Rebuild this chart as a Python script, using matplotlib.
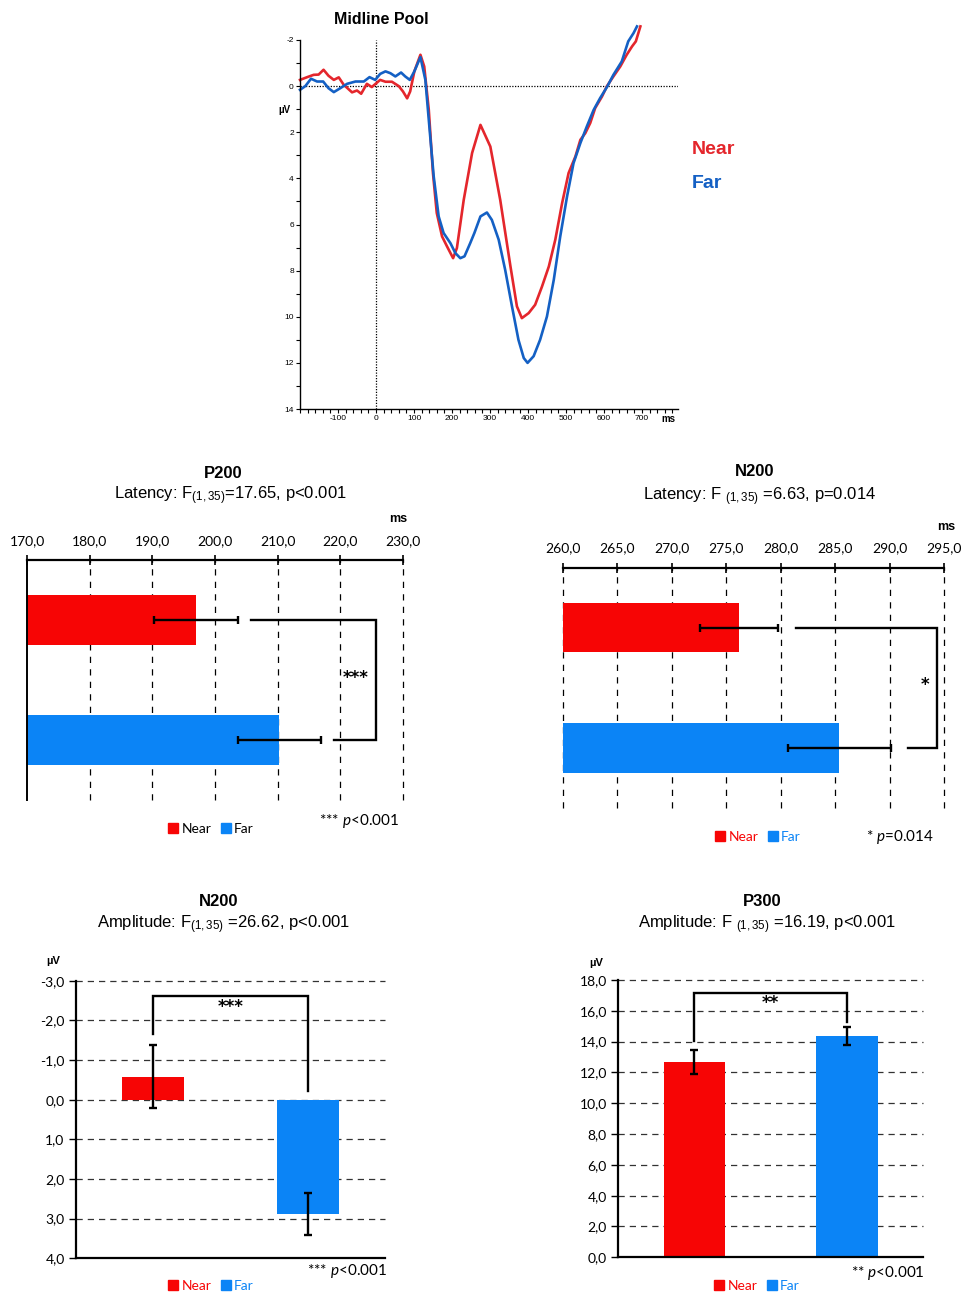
import matplotlib
matplotlib.use("Agg")
import matplotlib.pyplot as plt
from matplotlib.patches import Patch

plt.rcParams["font.family"] = ["Liberation Sans", "DejaVu Sans"]
plt.rcParams["axes.unicode_minus"] = False
plt.rcParams["mathtext.fontset"] = "custom"
plt.rcParams["mathtext.rm"] = "Lato"
plt.rcParams["mathtext.it"] = "Lato:italic"
plt.rcParams["mathtext.bf"] = "Lato:bold"

# ---------------------------------------------------------------- data
# Grand-average ERP, midline electrode pool (ms, microvolts)
near_t = [-200, -181, -164, -151, -138, -125, -111, -98, -85, -63, -50, -39, -24, -11, 11,
          25, 42, 60, 71, 82, 90, 101, 117, 127, 139, 150, 160, 174, 187, 203,
          213, 231, 253, 275, 301, 327, 354, 371, 384, 402, 419, 437, 455, 472, 490,
          507, 525, 538, 551, 564, 577, 595, 608, 625, 643, 660, 674, 684, 696]
near_uv = [-0.27, -0.39, -0.49, -0.50, -0.71, -0.45, -0.27, -0.38, -0.06, 0.27, 0.19, 0.33, -0.10, 0.04, -0.27,
           -0.19, -0.19, 0.0, 0.23, 0.53, 0.23, -0.64, -1.36, -0.85, 1.03, 3.77, 5.5, 6.52, 6.95, 7.46,
           7.02, 4.93, 2.9, 1.68, 2.62, 4.93, 7.82, 9.55, 10.06, 9.84, 9.48, 8.69, 7.82, 6.66, 5.07,
           3.77, 3.05, 2.33, 2.04, 1.60, 0.95, 0.45, 0.0, -0.42, -0.85, -1.36, -1.72, -1.94, -2.59]
far_t = [-200, -186, -171, -155, -139, -125, -111, -94, -76, -54, -32, -17, -2, 11, 25,
         38, 51, 66, 77, 89, 101, 117, 130, 142, 152, 165, 178, 196, 209, 222,
         233, 248, 259, 275, 292, 305, 323, 340, 358, 375, 389, 399, 415, 432, 450,
         468, 485, 503, 520, 538, 555, 573, 590, 608, 625, 647, 664, 678, 687]
far_uv = [0.16, 0.0, -0.32, -0.2, -0.2, 0.09, 0.26, 0.09, -0.1, -0.2, -0.2, -0.39, -0.27, -0.53, -0.64,
          -0.56, -0.42, -0.59, -0.42, -0.27, -0.64, -1.26, -0.27, 2.04, 3.92, 5.65, 6.37, 6.81, 7.24, 7.46,
          7.38, 6.81, 6.37, 5.65, 5.48, 5.8, 6.66, 7.96, 9.55, 11.0, 11.79, 12.0, 11.71, 11.0, 9.99,
          8.4, 6.52, 4.78, 3.34, 2.47, 1.75, 1.03, 0.52, 0.04, -0.49, -1.07, -1.94, -2.3, -2.59]

conditions = ["Near", "Far"]
p200_latency = [197.0, 210.3]
p200_latency_se = [6.7, 6.7]
n200_latency = [276.2, 285.4]
n200_latency_se = [3.6, 4.7]
n200_amplitude = [-0.58, 2.89]
n200_amplitude_se = [0.79, 0.53]
p300_amplitude = [12.68, 14.36]
p300_amplitude_se = [0.80, 0.56]

erp_xticks = [-100, 0, 100, 200, 300, 400, 500, 600, 700]
erp_yticks = [-2, 0, 2, 4, 6, 8, 10, 12, 14]
p200_ticks = [170, 180, 190, 200, 210, 220, 230]
n200_lat_ticks = [260, 265, 270, 275, 280, 285, 290, 295]
n200_amp_ticks = [-3, -2, -1, 0, 1, 2, 3, 4]
p300_ticks = [0, 2, 4, 6, 8, 10, 12, 14, 16, 18]

# ---------------------------------------------------------------- style
W, H = 964, 1294
RED_LINE = "#E4262C"
BLUE_LINE = "#1460C4"
RED_BAR = "#F70505"
BLUE_BAR = "#0B84F6"
TICK_FONT = "Lato"

fig = plt.figure(figsize=(W / 100, H / 100), dpi=100)


def pix_axes(x0, y0, x1, y1):
    return fig.add_axes([x0 / W, 1 - y1 / H, (x1 - x0) / W, (y1 - y0) / H])


def pix_text(x, y, s, **kw):
    kw.setdefault("ha", "center")
    kw.setdefault("va", "center")
    return fig.text(x / W, 1 - y / H, s, **kw)


def comma(v):
    return f"{v:.1f}".replace(".", ",")


# ---------------------------------------------------------------- ERP waveform
ax = pix_axes(300, 40, 678, 409)
ax.plot(near_t, near_uv, color=RED_LINE, lw=1.9, clip_on=False, solid_joinstyle="round")
ax.plot(far_t, far_uv, color=BLUE_LINE, lw=1.9, clip_on=False, solid_joinstyle="round")
ax.set_xlim(-200, 795)
ax.set_ylim(14, -2)
ax.axhline(0, color="black", lw=0.9, ls=(0, (1, 1.2)), zorder=0)
ax.axvline(0, color="black", lw=0.9, ls=(0, (1, 1.2)), zorder=0)
for s in ("top", "right"):
    ax.spines[s].set_visible(False)
for s in ("left", "bottom"):
    ax.spines[s].set_linewidth(1.0)
ax.set_xticks(erp_xticks)
ax.set_xticks(range(-200, 800, 20), minor=True)
ax.set_yticks(erp_yticks)
ax.set_yticks(range(-2, 15, 1), minor=True)
ax.tick_params(which="both", direction="out", length=3, width=0.8, labelsize=6, pad=1.5)
pix_text(381, 19, "Midline Pool", fontsize=11.5, fontweight="bold")
pix_text(284, 110, "µV", fontsize=7, fontweight="bold")
pix_text(668, 419, "ms", fontsize=7, fontweight="bold")
pix_text(692, 150, "Near", fontsize=14, fontweight="bold", color=RED_LINE, ha="left")
pix_text(692, 183, "Far", fontsize=14, fontweight="bold", color=BLUE_LINE, ha="left")


# ---------------------------------------------------------------- latency panels
def latency_panel(box, values, errs, ticks, left_spine, gap, bracket_x, star, star_x):
    ax = pix_axes(*box)
    pos = [1, 0]
    ax.barh(pos, [v - ticks[0] for v in values], height=0.41, left=ticks[0],
            color=[RED_BAR, BLUE_BAR], zorder=2)
    ax.errorbar(values, pos, xerr=errs, fmt="none", ecolor="black", elinewidth=1.7,
                capsize=3.2, capthick=1.7, zorder=3)
    ax.set_xlim(ticks[0], ticks[-1])
    ax.set_ylim(-0.5, 1.5)
    ax.xaxis.tick_top()
    ax.set_xticks(ticks)
    ax.set_xticklabels([comma(t) for t in ticks], fontfamily=TICK_FONT)
    ax.set_yticks([])
    ax.tick_params(axis="x", direction="inout", length=7, width=1.2, labelsize=10, pad=6)
    grid_x = ticks if not left_spine else ticks[1:]
    ax.vlines(grid_x, -0.5, 1.5, color="black", lw=0.9, ls=(0, (5, 5)), zorder=1,
              clip_on=False)
    for s in ("bottom", "right"):
        ax.spines[s].set_visible(False)
    ax.spines["top"].set_linewidth(1.6)
    if left_spine:
        ax.spines["left"].set_linewidth(1.4)
    else:
        ax.spines["left"].set_visible(False)
    near_end = values[0] + errs[0] + gap
    far_end = values[1] + errs[1] + gap
    ax.plot([near_end, bracket_x, bracket_x, far_end], [1, 1, 0, 0], color="black",
            lw=1.7, clip_on=False, solid_joinstyle="miter", zorder=4)
    ax.text(star_x, 0.52, star, ha="center", va="center", fontsize=12, fontweight="bold",
            fontfamily="DejaVu Sans")
    return ax


latency_panel((27.3, 560, 402.7, 800), p200_latency, p200_latency_se, p200_ticks,
              True, 2.0, 225.7, "***", 222.5)
pix_text(223, 473, "P200", fontsize=12, fontweight="bold")
pix_text(230, 496, r"Latency: F$_{\mathregular{(1,35)}}$=17.65, p<0.001", fontsize=12)
pix_text(398, 519, "ms", fontsize=9, fontweight="bold")
pix_text(359, 821, r"*** $\mathit{p}$<0.001", fontsize=11, fontfamily=TICK_FONT)

latency_panel((562.7, 567.7, 944, 808), n200_latency, n200_latency_se, n200_lat_ticks,
              False, 1.6, 294.4, "*", 293.3)
pix_text(755, 472, "N200", fontsize=12, fontweight="bold")
pix_text(760, 497, r"Latency: F $_{\mathregular{(1,35)}}$ =6.63, p=0.014", fontsize=12)
pix_text(946, 527, "ms", fontsize=9, fontweight="bold")
pix_text(900, 837, r"* $\mathit{p}$=0.014", fontsize=11, fontfamily=TICK_FONT)


# ---------------------------------------------------------------- amplitude panels
def amplitude_panel(box, values, errs, ticks, inverted, legs, top, star):
    ax = pix_axes(*box)
    pos = [0, 1]
    ax.bar(pos, values, width=0.403, color=[RED_BAR, BLUE_BAR], zorder=2)
    ax.errorbar(pos, values, yerr=errs, fmt="none", ecolor="black", elinewidth=1.7,
                capsize=3.2, capthick=1.7, zorder=3)
    ax.set_xlim(-0.5, 1.5)
    if inverted:
        ax.set_ylim(ticks[-1], ticks[0])
        grid_y = ticks[:-1]
    else:
        ax.set_ylim(ticks[0], ticks[-1])
        grid_y = ticks[1:]
    ax.set_yticks(ticks)
    ax.set_yticklabels([comma(t) for t in ticks], fontfamily=TICK_FONT)
    ax.set_xticks([])
    ax.tick_params(axis="y", direction="out", length=5, width=1.0, labelsize=10, pad=3)
    ax.hlines(grid_y, -0.5, 1.5, color="#333333", lw=0.9, ls=(0, (5, 4)), zorder=1,
              clip_on=False)
    for s in ("top", "right"):
        ax.spines[s].set_visible(False)
    for s in ("left", "bottom"):
        ax.spines[s].set_linewidth(1.6)
    ax.plot([0, 0, 1, 1], [legs[0], top, top, legs[1]], color="black", lw=1.7,
            solid_joinstyle="miter", zorder=4)
    ax.text(0.5, top + (0.28 if inverted else -0.65), star, ha="center", va="center",
            fontsize=12, fontweight="bold", fontfamily="DejaVu Sans")
    return ax


amplitude_panel((75.7, 980.7, 385, 1258.3), n200_amplitude, n200_amplitude_se,
                n200_amp_ticks, True, (-1.66, -0.21), -2.62, "***")
pix_text(219, 902, "N200", fontsize=12, fontweight="bold")
pix_text(224, 925, r"Amplitude: F$_{\mathregular{(1,35)}}$ =26.62, p<0.001", fontsize=12)
pix_text(53, 961, "µV", fontsize=8, fontweight="bold")
pix_text(347, 1271, r"*** $\mathit{p}$<0.001", fontsize=11, fontfamily=TICK_FONT)

amplitude_panel((618, 980, 923.3, 1257.3), p300_amplitude, p300_amplitude_se,
                p300_ticks, False, (14.06, 15.27), 17.15, "**")
pix_text(762, 902, "P300", fontsize=12, fontweight="bold")
pix_text(767, 925, r"Amplitude: F $_{\mathregular{(1,35)}}$ =16.19, p<0.001", fontsize=12)
pix_text(596, 963, "µV", fontsize=8, fontweight="bold")
pix_text(888, 1273, r"** $\mathit{p}$<0.001", fontsize=11, fontfamily=TICK_FONT)


# ---------------------------------------------------------------- legends
def bar_legend(x, y, colored):
    handles = [Patch(color=RED_BAR), Patch(color=BLUE_BAR)]
    leg = fig.legend(handles, conditions, loc="center", bbox_to_anchor=(x / W, 1 - y / H),
                     ncol=2, frameon=False, handlelength=0.7, handleheight=0.7,
                     handletextpad=0.25, columnspacing=0.7, borderpad=0,
                     prop={"family": TICK_FONT, "size": 10})
    if colored:
        for txt, c in zip(leg.get_texts(), [RED_BAR, BLUE_BAR]):
            txt.set_color(c)


bar_legend(211, 829, False)
bar_legend(758, 837, True)
bar_legend(211, 1286, True)
bar_legend(757, 1286, True)

fig.savefig("out.png", dpi=100)
